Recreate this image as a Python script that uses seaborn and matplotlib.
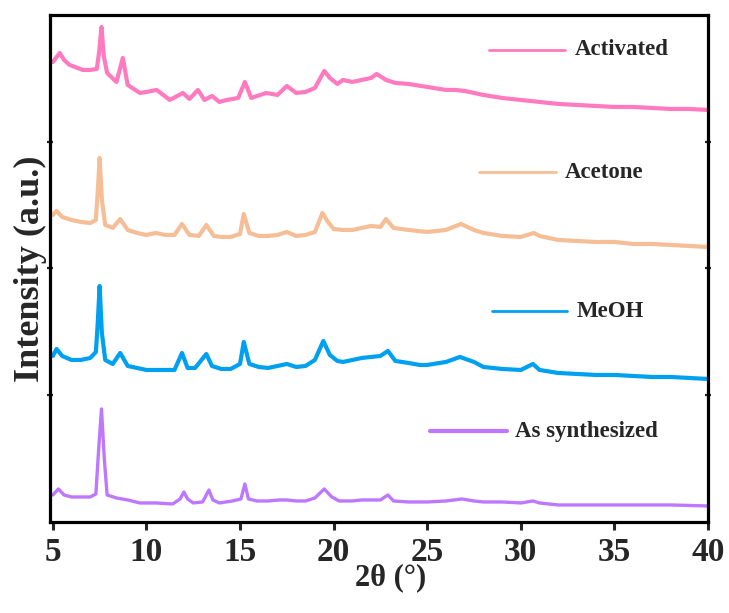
import matplotlib
matplotlib.use("Agg")
import matplotlib.pyplot as plt
import seaborn as sns
import pandas as pd

# Powder XRD patterns (2-theta in degrees, intensity in arbitrary units)
as_syn_2theta = [5.0, 5.3, 5.6, 6.0, 6.5, 7.0, 7.3, 7.45, 7.6, 7.75, 7.9, 8.4, 9.0, 9.65, 10.5,
                 11.4, 11.8, 12.0, 12.2, 12.5, 13.0, 13.34, 13.55, 13.9, 14.6, 15.05, 15.26, 15.45,
                 15.9, 16.5, 17.1, 17.5, 18.0, 18.5, 19.0, 19.5, 19.9, 20.3, 21.0, 21.5, 22.0, 22.5,
                 22.9, 23.2, 24.0, 25.0, 26.0, 26.85, 27.5, 28.0, 29.0, 30.0, 30.65, 31.0, 32.0,
                 34.0, 36.0, 38.0, 40.0]
as_syn_int = [24, 30, 24, 22, 22, 22, 25, 70, 110, 60, 24, 21, 19, 16, 16,
              15, 20, 27, 20, 16, 17, 29, 19, 16, 18, 20, 35, 20,
              18, 18, 19, 19, 18, 18, 21, 30, 22, 18, 18, 19, 19, 19,
              24, 18, 17, 17, 18, 20, 18, 17, 17, 16, 18, 16, 14,
              14, 14, 14, 13]

meoh_2theta = [5.0, 5.2, 5.5, 6.0, 6.5, 7.0, 7.3, 7.4, 7.5, 7.62, 7.8, 8.2, 8.6, 9.0, 9.5,
               10.0, 10.5, 11.0, 11.5, 11.9, 12.2, 12.6, 13.2, 13.5, 14.0, 14.5, 15.0, 15.2,
               15.5, 16.0, 16.5, 17.0, 17.5, 18.0, 18.5, 19.0, 19.45, 19.8, 20.2, 20.5, 21.0,
               21.5, 22.0, 22.5, 22.9, 23.3, 24.0, 24.6, 25.0, 26.0, 26.75, 27.5, 28.0, 29.0,
               30.0, 30.65, 31.0, 32.0, 33.0, 34.0, 35.0, 36.0, 37.0, 38.0, 39.0, 40.0]
meoh_int = [37, 44, 37, 33, 33, 35, 41, 70, 107, 60, 33, 29, 40, 27, 25,
            23, 23, 23, 23, 40, 25, 25, 39, 27, 24, 24, 29, 51,
            29, 26, 25, 27, 29, 26, 27, 33, 52, 38, 32, 31, 33,
            35, 36, 37, 42, 32, 30, 28, 28, 31, 36, 31, 26, 24,
            23, 29, 23, 20, 19, 18, 18, 17, 16, 16, 15, 14]

acetone_2theta = [5.0, 5.2, 5.5, 6.0, 6.5, 7.0, 7.3, 7.4, 7.5, 7.62, 7.8, 8.2, 8.6, 9.0, 9.5,
                  10.0, 10.5, 11.0, 11.5, 11.9, 12.3, 12.8, 13.2, 13.6, 14.0, 14.5, 15.0, 15.2,
                  15.5, 16.0, 16.5, 17.0, 17.5, 18.0, 18.5, 19.0, 19.4, 19.7, 20.0, 20.5, 21.0,
                  21.5, 22.0, 22.5, 22.8, 23.2, 24.0, 25.0, 26.0, 26.8, 27.5, 28.0, 29.0, 30.0,
                  30.7, 31.0, 32.0, 33.0, 34.0, 35.0, 36.0, 37.0, 38.0, 39.0, 40.0]
acetone_int = [52, 56, 50, 47, 45, 44, 47, 75, 109, 67, 42, 39, 48, 37, 34,
               32, 34, 32, 32, 43, 32, 31, 42, 31, 30, 30, 33, 53,
               34, 31, 31, 32, 35, 31, 32, 35, 54, 45, 38, 37, 37,
               39, 41, 40, 48, 39, 37, 35, 37, 43, 37, 34, 31, 30,
               34, 31, 27, 26, 25, 25, 23, 23, 22, 21, 20]

activated_2theta = [5.0, 5.37, 5.6, 5.9, 6.6, 7.0, 7.35, 7.48, 7.6, 7.72, 7.9, 8.4, 8.74, 9.0,
                    9.65, 10.0, 10.55, 11.25, 11.95, 12.3, 12.75, 13.1, 13.5, 13.9, 14.3, 14.9,
                    15.26, 15.6, 16.4, 17.0, 17.5, 18.0, 18.5, 19.0, 19.5, 19.8, 20.2, 20.5, 21.0,
                    21.5, 22.0, 22.3, 22.8, 23.3, 24.0, 25.0, 26.0, 26.5, 27.0, 28.0, 29.0, 30.0,
                    31.0, 32.0, 33.0, 34.0, 35.0, 36.0, 37.0, 38.0, 39.0, 40.0]
activated_int = [79, 88, 81, 76, 71, 71, 72, 90, 114, 85, 68, 59, 83, 56,
                 48, 49, 51, 41, 48, 42, 51, 41, 45, 39, 41, 43,
                 59, 43, 48, 46, 55, 48, 49, 53, 70, 63, 57, 61, 59,
                 61, 63, 67, 61, 58, 57, 54, 51, 51, 50, 46, 43, 41,
                 39, 37, 36, 35, 34, 34, 33, 32, 32, 31]

sample_names = ["As synthesized", "MeOH", "Acetone", "Activated"]
stack_offsets = [0, 126, 252, 378]
colors = ["#BE78FF", "#00A0F0", "#F6BE96", "#FF7ABF"]

sns.set_style("ticks")
plt.rcParams["font.family"] = ["Liberation Serif", "DejaVu Serif"]
plt.rcParams["font.weight"] = "bold"

fig = plt.figure(figsize=(7.29, 6.13), dpi=100)
ax = fig.add_axes([0.0686, 0.1485, 0.9026, 0.8271])

patterns = [(as_syn_2theta, as_syn_int), (meoh_2theta, meoh_int),
            (acetone_2theta, acetone_int), (activated_2theta, activated_int)]
widths = [2.4, 3.0, 3.0, 3.0]
for (tt, inten), name, off, col, lw in zip(patterns, sample_names, stack_offsets, colors, widths):
    df = pd.DataFrame({"two_theta": tt, "intensity": [v + off for v in inten]})
    sns.lineplot(data=df, x="two_theta", y="intensity", color=col, linewidth=lw,
                 ax=ax, sort=False, estimator=None)

ax.set_xlim(4.85, 40)
ax.set_ylim(-3, 504)
ax.set_xticks([5, 10, 15, 20, 25, 30, 35, 40])
ax.set_xticklabels(["5", "10", "15", "20", "25", "30", "35", "40"],
                   fontsize=24, fontweight="bold")
ymin, ymax = ax.get_ylim()
ax.set_yticks([ymin + (ymax - ymin) * f for f in (0.25, 0.5, 0.75)])
ax.set_yticklabels([])
ax.tick_params(axis="x", direction="out", length=6, width=2.2, pad=5)
ax.tick_params(axis="y", direction="inout", length=5, width=1.6,
               left=True, right=True)

for side in ["left", "right", "top", "bottom"]:
    ax.spines[side].set_visible(True)
    ax.spines[side].set_linewidth(2.3)
    ax.spines[side].set_color("black")

ax.set_xlabel("2θ (°)", fontsize=22, fontweight="bold")
ax.xaxis.set_label_coords(0.518, -0.082)
ax.set_ylabel("Intensity (a.u.)", fontsize=26, fontweight="bold")
ax.yaxis.set_label_coords(-0.005, 0.5)

# per-pattern key: short line sample followed by the sample name
keys = [
    ("Activated", colors[3], 0.667, 0.783, 0.798, 0.931, 2.0),
    ("Acetone", colors[2], 0.652, 0.769, 0.783, 0.690, 2.0),
    ("MeOH", colors[1], 0.672, 0.786, 0.801, 0.416, 2.0),
    ("As synthesized", colors[0], 0.578, 0.695, 0.707, 0.179, 3.0),
]
for label, col, x0, x1, xt, yk, lw in keys:
    ax.plot([x0, x1], [yk, yk], color=col, linewidth=lw, transform=ax.transAxes)
    ax.text(xt, yk, label, transform=ax.transAxes, fontsize=16.5, fontweight="bold",
            va="center", ha="left")

fig.savefig("out.png", dpi=100)
